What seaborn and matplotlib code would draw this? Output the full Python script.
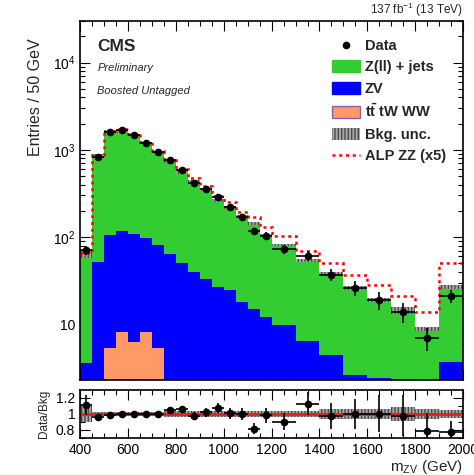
import numpy as np
import pandas as pd
import matplotlib
matplotlib.use('Agg')
import matplotlib.pyplot as plt
import seaborn as sns
from matplotlib.patches import Patch
from matplotlib.lines import Line2D

# bin edges in m_ZV (GeV): 50 GeV bins up to 1200, then 100 GeV bins
bin_edges = [400, 450, 500, 550, 600, 650, 700, 750, 800, 850, 900, 950, 1000,
             1050, 1100, 1150, 1200, 1300, 1400, 1500, 1600, 1700, 1800, 1900, 2000]

# stacked backgrounds
zjets = [60.4, 808, 1525, 1583, 1372, 1103, 869, 673, 506, 390, 320, 238, 193.5,
         152, 128, 93, 71.2, 47.6, 33.6, 23.4, 16.6, 11.95, 6.57, 23.3]
zv = [3.6, 52, 99.6, 108.9, 101.7, 88.9, 75.6, 64, 51, 40, 33, 27, 24.5,
      18, 15, 12, 9.8, 6.4, 4.4, 2.6, 2.4, 2.35, 2.33, 3.7]
ttww = [0, 0, 5.4, 8.1, 6.3, 8.1, 5.4, 0, 0, 0, 0, 0, 0,
        0, 0, 0, 0, 0, 0, 0, 0, 0, 0, 0]
bkg_unc = [0.10, 0.03, 0.03, 0.03, 0.03, 0.03, 0.03, 0.04, 0.04, 0.04, 0.04, 0.04, 0.04,
           0.04, 0.04, 0.04, 0.035, 0.035, 0.06, 0.06, 0.06, 0.09, 0.06, 0.05]

# signal (unscaled, drawn x5 on top of the background)
alp_zz = [0.4, 1, 2, 3, 4, 5, 6, 7, 8, 8, 7, 5.4, 6.4,
          4.4, 5, 5, 4.2, 3, 2.6, 2.2, 1.8, 1.34, 1.02, 4.8]

# data
data = [71, 825, 1600, 1690, 1480, 1200, 950, 770, 590, 420, 360, 285, 220,
        170, 117, 103, 73, 61, 37, 26, 19, 14, 7, 21]
data_err = [8, 29, 40, 41, 38, 35, 31, 28, 24, 20, 19, 17, 15,
            13, 10, 10, 8.5, 7.8, 6, 5, 4.4, 3.7, 2.0, 3.5]

edges = np.array(bin_edges, dtype=float)
centers = 0.5 * (edges[1:] + edges[:-1])
halfw = 0.5 * (edges[1:] - edges[:-1])
bkg = np.array(zjets) + np.array(zv) + np.array(ttww)
unc = np.array(bkg_unc)
ratio = np.array(data) / bkg
ratio_err = np.array(data_err) / bkg

C_ZJ = '#33cc33'
C_ZV = '#0000ff'
C_TT = '#ff9966'
C_UNC_F = '#a8a8a8'
C_UNC_E = '#4a4a4a'
C_RED = '#ff0000'

sns.set_theme(style="ticks")
plt.rcParams['font.family'] = ['Liberation Sans', 'DejaVu Sans']
plt.rcParams['mathtext.fontset'] = 'custom'
plt.rcParams['mathtext.rm'] = 'Liberation Sans'
plt.rcParams['mathtext.it'] = 'Liberation Sans:italic'
plt.rcParams['mathtext.bf'] = 'Liberation Sans:bold'
plt.rcParams['hatch.linewidth'] = 1.0
plt.rcParams['axes.edgecolor'] = 'black'
plt.rcParams['xtick.color'] = 'black'
plt.rcParams['ytick.color'] = 'black'

fig = plt.figure(figsize=(4.74, 4.75), dpi=100)
ax = fig.add_axes([0.169, 0.2, 0.808, 0.756])
rax = fig.add_axes([0.169, 0.078, 0.808, 0.101])

# ---------------------------------------------------------
# main panel: stacked backgrounds
# ---------------------------------------------------------
hist_df = pd.DataFrame({
    'mass': np.tile(centers, 3),
    'weight': np.concatenate([zjets, zv, ttww]),
    'process': ['Z(ll) + jets'] * len(centers) + ['ZV'] * len(centers) + ['ttWW'] * len(centers),
})
sns.histplot(data=hist_df, x='mass', weights='weight', hue='process',
             hue_order=['Z(ll) + jets', 'ZV', 'ttWW'],
             palette={'Z(ll) + jets': C_ZJ, 'ZV': C_ZV, 'ttWW': C_TT},
             bins=bin_edges, multiple='stack', element='step', fill=True,
             alpha=1, linewidth=0, legend=False, ax=ax)

# background uncertainty
ax.stairs(bkg * (1 + unc), edges, baseline=bkg * (1 - unc), fill=True,
          facecolor=C_UNC_F, edgecolor=C_UNC_E, hatch='|||||', linewidth=0)

# signal x5 on top of background
ax.stairs(bkg + 5 * np.array(alp_zz), edges, color=C_RED, linestyle=(0, (1.2, 1.5)),
          linewidth=1.8, baseline=None)

ax.errorbar(centers, data, xerr=halfw, yerr=data_err, fmt='o', color='black',
            ms=4.5, elinewidth=1.2, capsize=0, zorder=5)

ax.set_yscale('log')
ax.set_xlim(400, 2000)
ax.set_ylim(2.3, 3e4)
ax.set_yticks([10, 100, 1000, 10000])
ax.set_yticklabels(['10', '$10^2$', '$10^3$', '$10^4$'])
ax.set_xticks(np.arange(400, 2001, 200))
ax.set_xticks(np.arange(400, 2001, 50), minor=True)
ax.tick_params(labelbottom=False)
ax.set_xlabel('')
ax.set_ylabel('Entries / 50 GeV', loc='top', fontsize=11.5, labelpad=7)
ax.yaxis.label.set_y(0.95)

for a in (ax, rax):
    a.tick_params(which='both', direction='in', top=True, right=True, labelsize=10)
    a.tick_params(which='major', length=7, width=0.8)
    a.tick_params(which='minor', length=3.5, width=0.8)
    for s in a.spines.values():
        s.set_linewidth(1.2)

ax.text(0.045, 0.93, 'CMS', transform=ax.transAxes, fontsize=12.5,
        fontweight='bold', va='center')
ax.text(0.045, 0.868, 'Preliminary', transform=ax.transAxes, fontsize=8,
        style='italic', va='center')
ax.text(0.045, 0.805, 'Boosted Untagged', transform=ax.transAxes, fontsize=8,
        style='italic', va='center')
ax.text(1.0, 1.004, r'137 fb$^{-1}$ (13 TeV)', transform=ax.transAxes,
        fontsize=8.5, ha='right', va='bottom')

handles = [
    Line2D([], [], marker='o', color='black', ls='none', ms=4.5),
    Patch(facecolor=C_ZJ, edgecolor=C_ZJ),
    Patch(facecolor=C_ZV, edgecolor=C_ZV),
    Patch(facecolor=C_TT, edgecolor='#8a5fb0'),
    Patch(facecolor=C_UNC_F, edgecolor=C_UNC_E, hatch='|||||', linewidth=0),
    Line2D([], [], color=C_RED, linestyle=(0, (1.2, 1.5)), linewidth=1.8),
]
labels = ['Data', 'Z(ll) + jets', 'ZV', r'$\mathbf{t\bar{t}}$ tW WW', 'Bkg. unc.', 'ALP ZZ (x5)']
ax.legend(handles, labels, loc='upper right', bbox_to_anchor=(0.982, 0.978),
          frameon=False, prop={'weight': 'bold', 'size': 10.5},
          handlelength=1.9, handleheight=0.9, labelspacing=0.5,
          handletextpad=0.35, borderaxespad=0.3)

# ---------------------------------------------------------
# ratio panel
# ---------------------------------------------------------
rax.stairs(1 + unc, edges, baseline=1 - unc, fill=True,
           facecolor=C_UNC_F, edgecolor=C_UNC_E, hatch='|||||', linewidth=0)
rax.axhline(1.0, color='#dd2222', linewidth=2)
rax.errorbar(centers, ratio, xerr=halfw, yerr=ratio_err, fmt='o', color='black',
             ms=4.5, elinewidth=1.2, capsize=0, zorder=5)
rax.set_xlim(400, 2000)
rax.set_ylim(0.7, 1.3)
rax.set_yticks([0.8, 1.0, 1.2])
rax.set_yticklabels(['0.8', '1', '1.2'])
rax.set_yticks([0.7, 0.9, 1.1], minor=True)
rax.set_xticks(np.arange(400, 2001, 200))
rax.set_xticks(np.arange(400, 2001, 50), minor=True)
rax.set_ylabel('Data/Bkg', fontsize=8.5, labelpad=4)
rax.set_xlabel(r'm$_{\rm ZV}$ (GeV)', loc='right', fontsize=11, labelpad=1)

fig.savefig('out.png', dpi=100)
print("done")
